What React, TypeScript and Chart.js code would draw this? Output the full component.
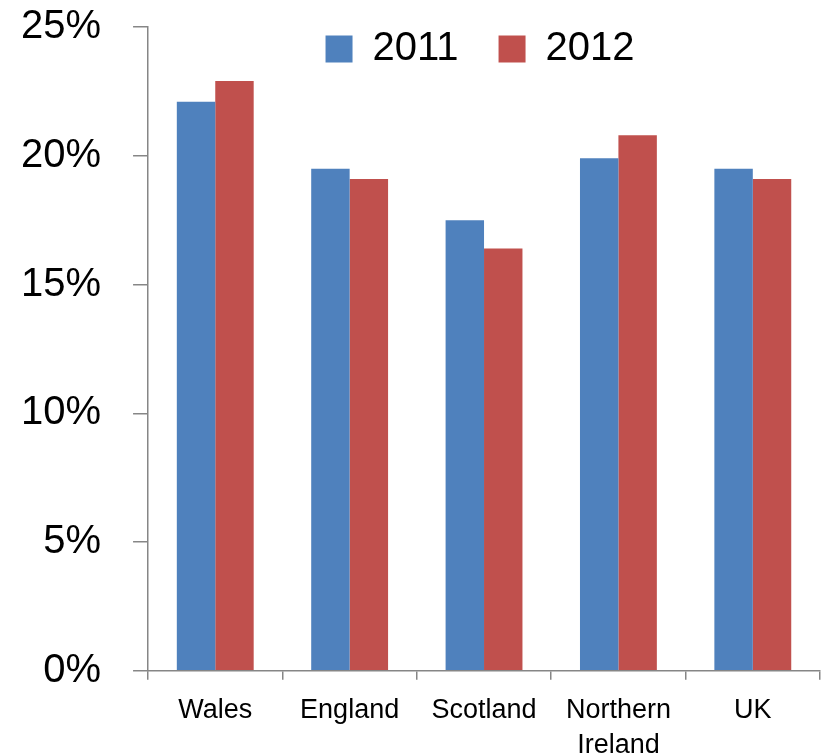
import React, { useEffect, useRef } from "react";
import { Chart, registerables } from "chart.js";

Chart.register(...registerables);

const categories: (string | string[])[] = ["Wales", "England", "Scotland", ["Northern", "Ireland"], "UK"];
const series2011: number[] = [22.1, 19.5, 17.5, 19.9, 19.5];
const series2012: number[] = [22.9, 19.1, 16.4, 20.8, 19.1];
const seriesLabels: string[] = ["2011", "2012"];
const yTicks: number[] = [0, 5, 10, 15, 20, 25];

const FONT = "'Liberation Sans', Arial, sans-serif";

// Lets the legend sit over the top of the plot area instead of taking space above it
const overlayLegend = {
  id: "overlayLegend",
  afterInit(chart: any) {
    const lg = chart.legend;
    if (!lg) return;
    const fit = lg.fit;
    lg.fit = function () {
      fit.call(this);
      this._realHeight = this.height;
      this.height = 0;
    };
  },
  afterLayout(chart: any) {
    const lg = chart.legend;
    if (!lg) return;
    const ca = chart.chartArea;
    lg.left = ca.left - 4;
    lg.right = ca.right - 4;
    lg.width = lg.right - lg.left;
    lg.top = ca.top - 38;
    lg.height = lg._realHeight || 0;
    lg.bottom = lg.top + lg.height;
  },
};

export default function App() {
  const ref = useRef<HTMLCanvasElement | null>(null);
  useEffect(() => {
    if (!ref.current) return;
    const chart = new Chart(ref.current, {
      type: "bar",
      data: {
        labels: categories,
        datasets: [
          { label: seriesLabels[0], data: series2011, backgroundColor: "#4F81BD", borderWidth: 0 },
          { label: seriesLabels[1], data: series2012, backgroundColor: "#C0504D", borderWidth: 0 },
        ],
      },
      options: {
        animation: false,
        responsive: false,
        maintainAspectRatio: false,
        devicePixelRatio: 1,
        layout: { padding: { left: -11, right: 3, top: 27, bottom: -21 } },
        datasets: { bar: { categoryPercentage: 0.572, barPercentage: 1 } },
        plugins: {
          tooltip: { enabled: false },
          legend: {
            position: "top",
            align: "center",
            labels: {
              boxWidth: 27,
              boxHeight: 27,
              padding: 40,
              color: "#000",
              font: { family: FONT, size: 40 },
            },
          },
        },
        scales: {
          x: {
            grid: { drawOnChartArea: false, drawTicks: true, tickLength: 9, color: "#868686", lineWidth: 1.5, offset: true },
            border: { display: true, color: "#868686", width: 1.5 },
            ticks: { color: "#000", font: { family: FONT, size: 27, lineHeight: 1.3 }, padding: 13, maxRotation: 0, autoSkip: false },
          },
          y: {
            min: 0,
            max: 25,
            afterBuildTicks: (axis: any) => {
              axis.ticks = yTicks.map((v) => ({ value: v }));
            },
            afterFit: (axis: any) => {
              axis.paddingTop = 0;
              axis.paddingBottom = 0;
            },
            grid: { drawOnChartArea: false, drawTicks: true, tickLength: 15, color: "#868686", lineWidth: 1.5 },
            border: { display: true, color: "#868686", width: 1.5 },
            ticks: {
              color: "#000",
              font: { family: FONT, size: 40 },
              padding: 32,
              callback: (v: any) => v + "%",
            },
          },
        },
      },
      plugins: [overlayLegend],
    });
    return () => chart.destroy();
  }, []);
  return (
    <div style={{ position: "fixed", left: 0, top: 0, width: 823, height: 755, background: "#fff", overflow: "hidden" }}>
      <canvas ref={ref} width={823} height={755} style={{ display: "block" }} />
    </div>
  );
}
